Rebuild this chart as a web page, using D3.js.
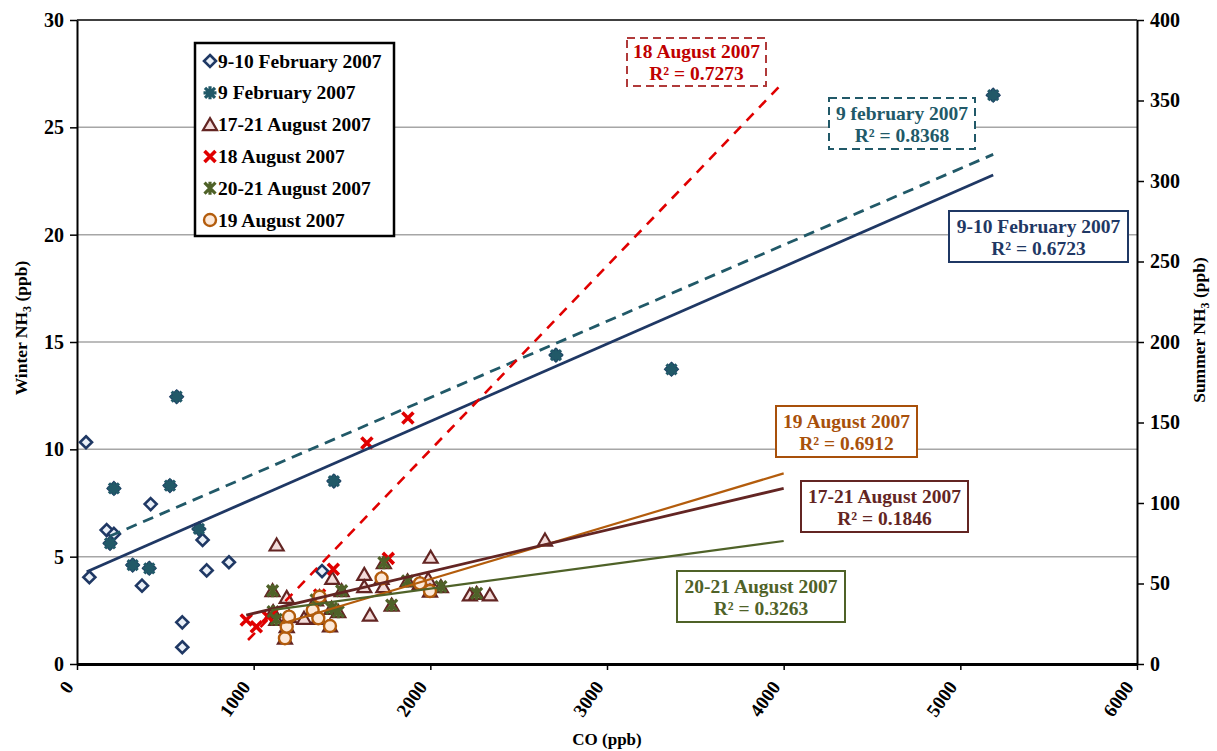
<!DOCTYPE html>
<html>
<head>
<meta charset="utf-8">
<script src="https://cdn.jsdelivr.net/npm/d3@7"></script>
<style>
  body { margin: 0; background: #fff; }
  text { font-family: "Liberation Serif", "Times New Roman", serif; font-weight: bold; }
</style>
</head>
<body>
<svg></svg>
<script>
let width = 1217, height = 751;

// ---- data (CO ppb, NH3 ppb) ----
// winter series -> left axis, summer series -> right axis
let feb910 = [[51,10.33],[168,6.24],[209,6.06],[417,7.45],[70,4.04],[368,3.65],[596,1.94],
              [596,0.78],[711,5.78],[734,4.36],[860,4.74],[1387,4.33]];
let feb9 = [[564,12.45],[209,8.18],[526,8.31],[187,5.62],[690,6.29],[315,4.61],[409,4.46],
            [1454,8.52],[2711,14.39],[3365,13.73],[5186,26.5]];
let aug1721 = [[1130,73.9],[1187,41.4],[1285,28.4],[1445,53.2],[1626,55.7],[1626,48.0],[1734,48.0],
               [1658,30.4],[2002,66.3],[1988,52.6],[2224,42.9],[2337,42.9],[2649,77.0]];
let aug18 = [[1873,152.8],[1641,137.3],[1762,65.6],[1451,58.8],[958,27.3],[1015,23.2],[1081,29.4],[1373,42.9]];
let aug2021 = [[1107,45.5],[1110,32.5],[1128,27.7],[1353,39.8],[1441,34.6],[1479,32.5],[1498,45.5],
               [1737,62.9],[1781,36.6],[1871,51.6],[2060,48.0],[2262,43.9]];
let aug19 = [[1177,16.0],[1187,23.2],[1200,29.4],[1334,33.5],[1366,28.4],[1432,23.6],[1373,41.8],
             [1724,53.2],[1941,50.1],[1998,45.3]];

// trend lines [x0, y0, x1, y1]
let trendFeb910 = [55, 4.30, 5186, 22.78];
let trendFeb9 = [187, 5.96, 5186, 23.74];
let trendAug18 = [968, 14.9, 4000, 361.5];
let trendAug19 = [1166, 25.3, 4000, 118.4];
let trendAug1721 = [958, 30.4, 4000, 109.1];
let trendAug2021 = [1100, 33.5, 4000, 76.4];

let xTicks = [0, 1000, 2000, 3000, 4000, 5000, 6000];
let leftTicks = [0, 5, 10, 15, 20, 25, 30];
let rightTicks = [0, 50, 100, 150, 200, 250, 300, 350, 400];

let legendNames = ["9-10 February 2007", "9 February 2007", "17-21 August 2007",
                   "18 August 2007", "20-21 August 2007", "19 August 2007"];
let fitLabels = [
  {name: "18 August 2007", r2: "R\u00b2 = 0.7273"},
  {name: "9 february 2007", r2: "R\u00b2 = 0.8368"},
  {name: "9-10 February 2007", r2: "R\u00b2 = 0.6723"},
  {name: "19 August 2007", r2: "R\u00b2 = 0.6912"},
  {name: "17-21 August 2007", r2: "R\u00b2 = 0.1846"},
  {name: "20-21 August 2007", r2: "R\u00b2 = 0.3263"}
];

let navy = "#1f3864", teal = "#215968", red = "#e00000", maroon = "#632523",
    green = "#4f6228", orange = "#b35c0c";

let svg = d3.select("svg")
    .attr("width", width)
    .attr("height", height);

let x = d3.scaleLinear().domain([0, 6000]).range([77, 1137]);
let yL = d3.scaleLinear().domain([0, 30]).range([664, 20]);
let yR = d3.scaleLinear().domain([0, 400]).range([664, 20]);

// gridlines
svg.append("g")
    .selectAll("line")
    .data(leftTicks.filter(d => d > 0 && d < 30))
    .enter()
    .append("line")
    .attr("x1", x(0)).attr("x2", x(6000))
    .attr("y1", d => yL(d)).attr("y2", d => yL(d))
    .attr("stroke", "#a6a6a6")
    .attr("stroke-width", 1.5);

svg.append("line")
    .attr("x1", x(0)).attr("x2", x(6000))
    .attr("y1", yL(30)).attr("y2", yL(30))
    .attr("stroke", "#000").attr("stroke-width", 1.5);

// axes
let gx = svg.append("g")
    .attr("transform", "translate(0," + yL(0) + ")")
    .call(d3.axisBottom(x).tickValues(xTicks).tickSize(6).tickSizeOuter(0).tickFormat(d3.format("d")));
gx.select(".domain").attr("stroke-width", 3);
gx.selectAll(".tick line").attr("stroke-width", 1.5);
gx.selectAll(".tick text")
    .attr("font-size", 19)
    .attr("text-anchor", "end")
    .attr("dy", 0)
    .attr("y", 0)
    .attr("transform", "translate(-3,23) rotate(-55)");

let gl = svg.append("g")
    .attr("transform", "translate(" + x(0) + ",0)")
    .call(d3.axisLeft(yL).tickValues(leftTicks).tickSize(7).tickSizeOuter(0).tickPadding(6));
gl.select(".domain").attr("stroke-width", 2);
gl.selectAll(".tick line").attr("stroke-width", 1.5);
gl.selectAll(".tick text").attr("font-size", 20).attr("fill", "#000");

let gr = svg.append("g")
    .attr("transform", "translate(" + x(6000) + ",0)")
    .call(d3.axisRight(yR).tickValues(rightTicks).tickSize(7).tickSizeOuter(0).tickPadding(6));
gr.select(".domain").attr("stroke-width", 2);
gr.selectAll(".tick line").attr("stroke-width", 1.5);
gr.selectAll(".tick text").attr("font-size", 20).attr("fill", "#000");

svg.selectAll(".tick text").attr("font-family", "Liberation Serif").attr("font-weight", "bold");

// axis titles
svg.append("text")
    .attr("x", 607).attr("y", 745)
    .attr("text-anchor", "middle")
    .attr("font-size", 17)
    .text("CO (ppb)");

function nh3Title(label, tx, ty) {
  let t = svg.append("text")
      .attr("transform", "translate(" + tx + "," + ty + ") rotate(-90)")
      .attr("text-anchor", "middle")
      .attr("font-size", 17.5);
  t.append("tspan").text(label + " NH");
  t.append("tspan").attr("dy", 4).attr("font-size", 12).text("3");
  t.append("tspan").attr("dy", -4).text(" (ppb)");
}
nh3Title("Winter", 27, 328);
nh3Title("Summer", 1205, 330);

// markers
function marker(g, type) {
  if (type == "diamond") {
    g.append("path").attr("d", "M0,-6L6,0L0,6L-6,0Z")
      .attr("fill", "#eaf0f8").attr("stroke", navy).attr("stroke-width", 2.6);
  } else if (type == "star") {
    g.append("path").attr("d", "M-5,-5L5,5M-5,5L5,-5M0,-6.5L0,6.5M-6.5,0L6.5,0")
      .attr("stroke", teal).attr("stroke-width", 3.2).attr("fill", "none");
  } else if (type == "triangle") {
    g.append("path").attr("d", "M0,-6.5L7,5.5L-7,5.5Z")
      .attr("fill", "#f2dcdb").attr("stroke", maroon).attr("stroke-width", 2.2);
  } else if (type == "x") {
    g.append("path").attr("d", "M-5.5,-5.5L5.5,5.5M-5.5,5.5L5.5,-5.5")
      .attr("stroke", red).attr("stroke-width", 3.6).attr("fill", "none");
  } else if (type == "ast") {
    g.append("path").attr("d", "M-5.5,-5.5L5.5,5.5M-5.5,5.5L5.5,-5.5M0,-6.5L0,6.5")
      .attr("stroke", green).attr("stroke-width", 3.2).attr("fill", "none");
  } else if (type == "circle") {
    g.append("circle").attr("r", 6)
      .attr("fill", "#fde9d9").attr("stroke", orange).attr("stroke-width", 2.4);
  }
}

function series(data, yScale, type) {
  svg.append("g")
    .selectAll("g")
    .data(data)
    .enter()
    .append("g")
    .attr("transform", d => "translate(" + x(d[0]) + "," + yScale(d[1]) + ")")
    .each(function() { marker(d3.select(this), type); });
}

series(feb910.concat(feb9), yL, "diamond");
series(feb9, yL, "star");
series(aug1721.concat(aug19, aug2021), yR, "triangle");
series(aug18, yR, "x");
series(aug2021, yR, "ast");
series(aug19, yR, "circle");

// trend lines
function trend(t, yScale, color, w, dash) {
  svg.append("line")
    .attr("x1", x(t[0])).attr("y1", yScale(t[1]))
    .attr("x2", x(t[2])).attr("y2", yScale(t[3]))
    .attr("stroke", color)
    .attr("stroke-width", w)
    .attr("stroke-dasharray", dash);
}
trend(trendFeb910, yL, navy, 2.8, null);
trend(trendFeb9, yL, teal, 2.8, "11,7");
trend(trendAug18, yR, red, 2.6, "10,8");
trend(trendAug19, yR, orange, 2.2, null);
trend(trendAug1721, yR, maroon, 2.8, null);
trend(trendAug2021, yR, green, 2.2, null);

// fit labels
let boxes = [
  {x: 627, y: 38, w: 139, h: 48, color: "#c00000", border: "#b03a3a", dash: "8,5"},
  {x: 829, y: 98, w: 146, h: 51, color: teal, border: teal, dash: "8,5"},
  {x: 949, y: 211, w: 179, h: 51, color: navy, border: navy, dash: null},
  {x: 776, y: 406, w: 141, h: 51, color: "#a8500a", border: "#a8500a", dash: null},
  {x: 801, y: 481, w: 167, h: 51, color: maroon, border: maroon, dash: null},
  {x: 677, y: 571, w: 168, h: 51, color: green, border: green, dash: null}
];
boxes.forEach((b, i) => {
  svg.append("rect")
    .attr("x", b.x).attr("y", b.y).attr("width", b.w).attr("height", b.h)
    .attr("fill", "#fff")
    .attr("stroke", b.border)
    .attr("stroke-width", 2)
    .attr("stroke-dasharray", b.dash);
  svg.append("text")
    .attr("x", b.x + b.w / 2).attr("y", b.y + b.h / 2 - 4)
    .attr("text-anchor", "middle")
    .attr("font-size", 19.5)
    .attr("fill", b.color)
    .text(fitLabels[i].name);
  svg.append("text")
    .attr("x", b.x + b.w / 2).attr("y", b.y + b.h / 2 + 18)
    .attr("text-anchor", "middle")
    .attr("font-size", 19.5)
    .attr("fill", b.color)
    .text(fitLabels[i].r2);
});

// legend
let legend = svg.append("g");
legend.append("rect")
    .attr("x", 195).attr("y", 43).attr("width", 199).attr("height", 193)
    .attr("fill", "#fff").attr("stroke", "#000").attr("stroke-width", 2.5);
let types = ["diamond", "star", "triangle", "x", "ast", "circle"];
legend.selectAll("g")
    .data(legendNames)
    .enter()
    .append("g")
    .attr("transform", (d, i) => "translate(210," + (61 + i * 31.8) + ")")
    .each(function(d, i) {
      let g = d3.select(this);
      marker(g, types[i]);
      g.append("text").attr("x", 8).attr("y", 6.5).attr("font-size", 19.5).text(d);
    });
</script>
</body>
</html>
